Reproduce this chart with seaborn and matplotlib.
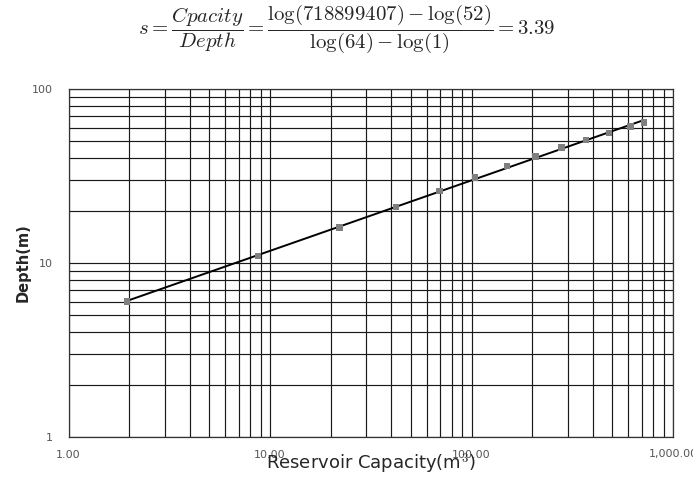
import numpy as np
import pandas as pd
import matplotlib
matplotlib.use("Agg")
import matplotlib.pyplot as plt
import seaborn as sns
from matplotlib.ticker import FixedLocator, FixedFormatter, NullFormatter

# Data (capacity in 10^6 m^3, depth in m)
capacity = [1.95, 8.7, 22.1, 42.3, 69.3, 104, 150, 208, 280, 370, 481, 616, 719]
depth = [6, 11, 16, 21, 26, 31, 36, 41, 46, 51, 56, 61, 64]
x_ticks = [1, 10, 100, 1000]
x_tick_labels = ["1.00", "10.00", "100.00", "1,000.00"]
y_ticks = [1, 10, 100]
y_tick_labels = ["1", "10", "100"]

df = pd.DataFrame({"capacity": capacity, "depth": depth})

# power-law fit (linear in log-log space)
b, a = np.polyfit(np.log10(df["capacity"]), np.log10(df["depth"]), 1)
fit_x = np.array([min(capacity), max(capacity)])
fit = pd.DataFrame({"capacity": fit_x, "depth": 10 ** (a + b * np.log10(fit_x))})

sns.set_theme(style="white")
plt.rcParams["font.family"] = ["DejaVu Sans"]
plt.rcParams["mathtext.fontset"] = "cm"

fig = plt.figure(figsize=(6.93, 4.78), dpi=100)
ax = fig.add_axes([68.5 / 693, 1 - 437 / 478, (673 - 68.5) / 693, (437 - 89) / 478])
ax.set_xscale("log")
ax.set_yscale("log")
ax.set_xlim(1, 1000)
ax.set_ylim(1, 100)

minor_x = [m * 10 ** e for e in range(0, 3) for m in range(2, 10)]
minor_y = [m * 10 ** e for e in range(0, 2) for m in range(2, 10)]
ax.xaxis.set_major_locator(FixedLocator(x_ticks))
ax.xaxis.set_major_formatter(FixedFormatter(x_tick_labels))
ax.xaxis.set_minor_locator(FixedLocator(minor_x))
ax.xaxis.set_minor_formatter(NullFormatter())
ax.yaxis.set_major_locator(FixedLocator(y_ticks))
ax.yaxis.set_major_formatter(FixedFormatter(y_tick_labels))
ax.yaxis.set_minor_locator(FixedLocator(minor_y))
ax.yaxis.set_minor_formatter(NullFormatter())

ax.grid(True, which="both", color="#1a1a1a", linewidth=0.85)
ax.set_axisbelow(True)
for s in ax.spines.values():
    s.set_color("#333333")
    s.set_linewidth(0.9)

ax.tick_params(axis="both", which="major", length=3, color="#333333",
               labelsize=8, labelcolor="#555555")
ax.tick_params(axis="x", which="major", length=0, pad=9)
ax.tick_params(axis="y", which="major", pad=8)
ax.tick_params(axis="both", which="minor", length=0)
ax.get_xticklabels()[-1].set_clip_on(False)

sns.lineplot(data=fit, x="capacity", y="depth", ax=ax, color="black", linewidth=1.4,
             zorder=3)
sns.scatterplot(data=df, x="capacity", y="depth", ax=ax, marker="s", s=22,
                color="#7f7f7f", edgecolor="none", zorder=4, clip_on=False)

ax.set_xlabel("Reservoir Capacity(m$^3$)", fontsize=13,
              family=["Liberation Sans Narrow", "DejaVu Sans"], labelpad=-6)
ax.set_ylabel("Depth(m)", fontsize=10.5, fontweight="bold", labelpad=1)

fig.text(0.5, 0.941,
         r"$s=\dfrac{Cpacity}{Depth}=\dfrac{\log(718899407)-\log(52)}{\log(64)-\log(1)}=3.39$",
         ha="center", va="center", fontsize=15)

fig.savefig("out.png", dpi=100)
